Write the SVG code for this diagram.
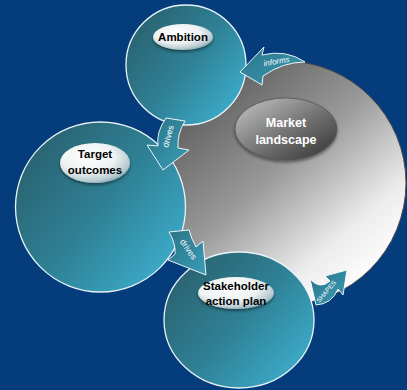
<svg xmlns="http://www.w3.org/2000/svg" width="407" height="390" viewBox="0 0 407 390">
<defs>
<linearGradient id="greyG" x1="0.15" y1="0.1" x2="0.85" y2="0.9">
<stop offset="0" stop-color="#5a5a5a"/>
<stop offset="0.45" stop-color="#9a9a9a"/>
<stop offset="0.8" stop-color="#ececec"/>
<stop offset="1" stop-color="#ffffff"/>
</linearGradient>
<linearGradient id="tealG" x1="0.1" y1="0.2" x2="0.9" y2="0.85">
<stop offset="0" stop-color="#2a6573"/>
<stop offset="0.5" stop-color="#2f8196"/>
<stop offset="1" stop-color="#3caac8"/>
</linearGradient>
<linearGradient id="arrowG" x1="0" y1="0" x2="1" y2="1">
<stop offset="0" stop-color="#2a7385"/>
<stop offset="1" stop-color="#3a9db8"/>
</linearGradient>
<radialGradient id="lblG" cx="0.4" cy="0.35" r="0.7">
<stop offset="0" stop-color="#ffffff"/>
<stop offset="0.55" stop-color="#eef2f3"/>
<stop offset="0.85" stop-color="#b9ccd1"/>
<stop offset="1" stop-color="#7fa6b1"/>
</radialGradient>
<linearGradient id="mktG" x1="0.1" y1="0.1" x2="0.9" y2="0.9">
<stop offset="0" stop-color="#b8b8b8"/>
<stop offset="0.5" stop-color="#777777"/>
<stop offset="1" stop-color="#3e3e3e"/>
</linearGradient>
<filter id="sh" x="-20%" y="-20%" width="140%" height="150%">
<feDropShadow dx="0" dy="2" stdDeviation="1.5" flood-color="#000" flood-opacity="0.45"/>
</filter>
</defs>
<style>
.bub{fill:url(#tealG);stroke:#e8f4f8;stroke-width:1.3}
.lbl{fill:url(#lblG);filter:url(#sh)}
.t{font-family:"Liberation Sans",Arial,sans-serif;font-weight:bold;font-size:11.5px;fill:#000;text-anchor:middle}
.tw{font-family:"Liberation Sans",Arial,sans-serif;font-weight:bold;font-size:12.5px;fill:#fff;text-anchor:middle}
.arr{fill:url(#arrowG);stroke:#ffffff;stroke-width:0.9}
.at{font-family:"Liberation Sans",Arial,sans-serif;font-size:8.5px;fill:#fff;text-anchor:middle}
</style>
<rect width="407" height="390" fill="#053c7c"/>
<g id="market">
<circle cx="284" cy="183" r="122" fill="url(#greyG)" stroke="#4a4a4a" stroke-width="1"/>
<ellipse cx="286" cy="129" rx="51" ry="31" fill="url(#mktG)" stroke="#555" stroke-width="0.8" filter="url(#sh)"/>
<text class="tw" x="286" y="127">Market</text>
<text class="tw" x="286" y="144">landscape</text>
</g>
<g id="target">
<circle class="bub" cx="100.5" cy="207" r="85"/>
<ellipse class="lbl" cx="95" cy="163" rx="35" ry="20"/>
<text class="t" x="95" y="158">Target</text>
<text class="t" x="95" y="174">outcomes</text>
</g>
<g id="ambition">
<circle class="bub" cx="186" cy="65" r="60"/>
<ellipse class="lbl" cx="183" cy="37" rx="30" ry="13"/>
<text class="t" x="183" y="41">Ambition</text>
</g>
<g id="stakeholder">
<ellipse class="bub" cx="239" cy="320" rx="75" ry="68"/>
<ellipse class="lbl" cx="236" cy="293" rx="38" ry="16"/>
<text class="t" x="236" y="290">Stakeholder</text>
<text class="t" x="236" y="305">action plan</text>
</g>
<g id="connectors">
<path class="arr" d="M 240 72 L 264 47 L 262 55 Q 286 49 305 62 Q 283 62 263 76 L 262 85 Z"/>
<text class="at" transform="translate(277,64) rotate(-10)" style="font-style:italic;font-size:8px">informs</text>
<path class="arr" d="M 166 118 Q 156 132 158 146 L 147 145 L 163 170 L 189 150 L 178 148 Q 177 134 185 121 Z"/>
<text class="at" transform="translate(171,137) rotate(-75)">drives</text>
<path class="arr" d="M 169 232 Q 176 244 175 254 L 168 260 L 206 275 L 203 241 L 196 247 Q 191 238 189 230 Z"/>
<text class="at" transform="translate(186,251) rotate(55)">drives</text>
<path class="arr" d="M 310 279 Q 320 290 330 281 L 325 276 L 347 270 L 343 295 L 338 289 Q 332 304 316 305 Z"/>
<text class="at" transform="translate(328,293) rotate(-50)" style="font-size:6.5px">SHAPES</text>
</g>
</svg>
